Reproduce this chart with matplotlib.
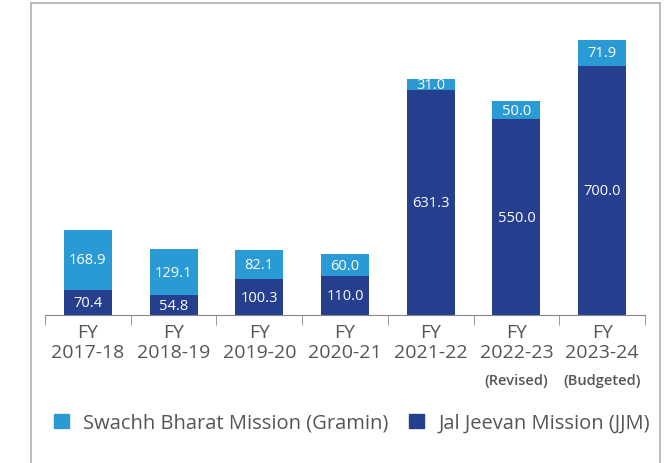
import numpy as np
import matplotlib.pyplot as plt
from matplotlib.lines import Line2D
from matplotlib.patches import Patch

years = ["2017-18", "2018-19", "2019-20", "2020-21", "2021-22", "2022-23", "2023-24"]
notes = ["", "", "", "", "", "(Revised)", "(Budgeted)"]
jjm = [70.4, 54.8, 100.3, 110.0, 631.3, 550.0, 700.0]
sbm = [168.9, 129.1, 82.1, 60.0, 31.0, 50.0, 71.9]

light = "#2a9ad4"
dark = "#253f8e"
grey = "#555555"
plt.rcParams['font.family'] = ['Open Sans', 'DejaVu Sans']

fig = plt.figure(figsize=(6.67, 4.64), dpi=100)
ax = fig.add_axes([45/667, 148/464, 600/667, 306/464])

x = np.arange(len(years))
w = 0.56
ax.bar(x, jjm, w, color=dark)
ax.bar(x, sbm, w, bottom=jjm, color=light)

for i in range(len(years)):
    ax.text(x[i], jjm[i]/2, f"{jjm[i]:.1f}", ha="center", va="center", color="white", fontsize=10.5)
    ax.text(x[i], jjm[i] + sbm[i]/2, f"{sbm[i]:.1f}", ha="center", va="center", color="white", fontsize=10.5)

ax.set_xlim(-0.5, len(years) - 0.5)
ax.set_ylim(0, 859)
for s in ["top", "right", "left"]:
    ax.spines[s].set_visible(False)
ax.spines["bottom"].set_color("#888888")
ax.set_yticks([])
ax.set_xticks(x)
ax.set_xticklabels(["FY\n" + y for y in years], fontsize=14, color=grey, linespacing=1.15)
ax.tick_params(axis="x", which="major", length=0, pad=6)
ax.set_xticks(np.arange(len(years) + 1) - 0.5, minor=True)
ax.tick_params(axis="x", which="minor", length=7, color="#888888")

for i, n in enumerate(notes):
    if n:
        ax.text(x[i], -0.213, n, transform=ax.get_xaxis_transform(), ha="center", va="center",
                fontsize=10.5, color=grey, fontweight="semibold")

# outer frame
fc = "#b0b0b0"
fig.add_artist(Line2D([31/667, 31/667], [0, 1 - 4/464], color=fc, lw=1.2))
fig.add_artist(Line2D([660/667, 660/667], [0, 1 - 4/464], color=fc, lw=1.2))
fig.add_artist(Line2D([31/667, 660/667], [1 - 4/464, 1 - 4/464], color=fc, lw=1.2))

handles = [Patch(color=light, label="Swachh Bharat Mission (Gramin)"),
           Patch(color=dark, label="Jal Jeevan Mission (JJM)")]
leg = fig.legend(handles=handles, loc="center", bbox_to_anchor=(352/667, 1 - 424/464), ncol=2,
                 frameon=False, fontsize=14.5, handlelength=0.75, handleheight=0.75,
                 handletextpad=0.7, columnspacing=1.0)
for t in leg.get_texts():
    t.set_color(grey)

fig.savefig("out.png", dpi=100)
